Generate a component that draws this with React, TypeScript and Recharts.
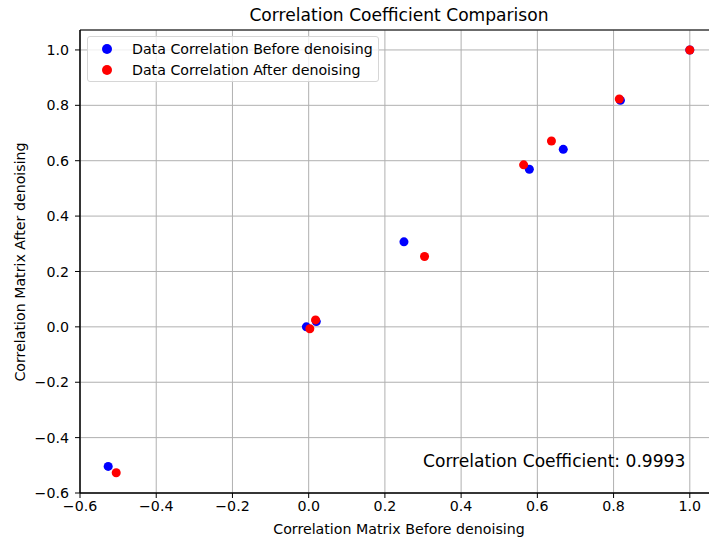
import React from 'react';
import {
  ScatterChart,
  Scatter,
  XAxis,
  YAxis,
  ZAxis,
  CartesianGrid,
  ReferenceArea,
} from 'recharts';

// values
const beforeX = [-0.526, -0.006, 0.02, 0.25, 0.579, 0.668, 0.818, 1.0];
const beforeY = [-0.504, 0.0, 0.019, 0.307, 0.569, 0.641, 0.818, 1.0];
const afterX = [-0.505, 0.003, 0.018, 0.304, 0.564, 0.637, 0.815, 1.0];
const afterY = [-0.527, -0.007, 0.025, 0.254, 0.585, 0.671, 0.823, 1.0];

const xTicks = [-0.6, -0.4, -0.2, 0.0, 0.2, 0.4, 0.6, 0.8, 1.0];
const yTicks = [-0.6, -0.4, -0.2, 0.0, 0.2, 0.4, 0.6, 0.8, 1.0];

const seriesNames = ['Data Correlation Before denoising', 'Data Correlation After denoising'];
const seriesColors = ['#0000ff', '#ff0000'];
const coefText = 'Correlation Coefficient: 0.9993';

// the reference axes run a little past the right edge of the picture
const X_DOMAIN: [number, number] = [-0.6, 1.074];
const Y_DOMAIN: [number, number] = [-0.6, 1.072];

const FONT = '"DejaVu Sans", sans-serif';
const SMALL = 14.2;
const LARGE = 17.1;

const fmt = (v: number): string => v.toFixed(1).replace('-', '\u2212');

const toPoints = (xs: number[], ys: number[]) => xs.map((x, i) => ({ x, y: ys[i] }));

const App: React.FC = () => {
  const before = toPoints(beforeX, beforeY);
  const after = toPoints(afterX, afterY);

  return (
    <div
      style={{
        position: 'fixed',
        left: 0,
        top: 0,
        width: 709,
        height: 540,
        overflow: 'hidden',
        fontFamily: FONT,
        background: '#fff',
      }}
    >
      <ScatterChart
        width={719}
        height={540}
        margin={{ top: 30, right: 1, bottom: 0, left: 0 }}
      >
        <CartesianGrid stroke="#b0b0b0" strokeWidth={1} />
        <XAxis
          type="number"
          dataKey="x"
          domain={X_DOMAIN}
          ticks={xTicks}
          tickFormatter={fmt}
          allowDataOverflow
          height={47}
          tickSize={5}
          tickMargin={3}
          axisLine={{ stroke: '#000' }}
          tickLine={{ stroke: '#000' }}
          tick={{ fill: '#000', fontSize: SMALL, fontFamily: FONT }}
        />
        <YAxis
          type="number"
          dataKey="y"
          domain={Y_DOMAIN}
          ticks={yTicks}
          tickFormatter={fmt}
          allowDataOverflow
          width={80}
          tickSize={5}
          tickMargin={6}
          axisLine={{ stroke: '#000' }}
          tickLine={{ stroke: '#000' }}
          tick={{ fill: '#000', fontSize: SMALL, fontFamily: FONT }}
        />
        <ZAxis range={[80, 80]} />
        <ReferenceArea
          x1={X_DOMAIN[0]}
          x2={X_DOMAIN[1]}
          y1={Y_DOMAIN[0]}
          y2={Y_DOMAIN[1]}
          fill="none"
          stroke="#000"
          strokeWidth={1}
        />
        <Scatter
          name={seriesNames[0]}
          data={before}
          fill={seriesColors[0]}
          isAnimationActive={false}
        />
        <Scatter
          name={seriesNames[1]}
          data={after}
          fill={seriesColors[1]}
          isAnimationActive={false}
        />
      </ScatterChart>

      {/* title */}
      <div
        style={{
          position: 'absolute',
          left: 80,
          width: 638,
          top: 4,
          textAlign: 'center',
          fontSize: LARGE,
          lineHeight: '22px',
          color: '#000',
        }}
      >
        Correlation Coefficient Comparison
      </div>

      {/* axis labels */}
      <div
        style={{
          position: 'absolute',
          left: 80,
          width: 638,
          top: 520,
          textAlign: 'center',
          fontSize: SMALL,
          lineHeight: '18px',
          color: '#000',
        }}
      >
        Correlation Matrix Before denoising
      </div>
      <div
        style={{
          position: 'absolute',
          left: 20 - 150,
          top: 262 - 9,
          width: 300,
          height: 18,
          textAlign: 'center',
          fontSize: SMALL,
          lineHeight: '18px',
          color: '#000',
          transform: 'rotate(-90deg)',
        }}
      >
        Correlation Matrix After denoising
      </div>

      {/* legend */}
      <div
        style={{
          position: 'absolute',
          left: 87,
          top: 36,
          width: 292,
          height: 46,
          border: '1px solid #d6d6d6',
          borderRadius: 3,
          background: 'rgba(255,255,255,0.8)',
          boxSizing: 'border-box',
          fontSize: SMALL,
          color: '#000',
        }}
      >
        {seriesNames.map((name, i) => (
          <div
            key={name}
            style={{
              position: 'absolute',
              left: 14,
              top: 2 + i * 21,
              height: 20,
              display: 'flex',
              alignItems: 'center',
            }}
          >
            <span
              style={{
                display: 'inline-block',
                width: 10,
                height: 10,
                borderRadius: '50%',
                background: seriesColors[i],
                marginRight: 20,
              }}
            />
            <span>{name}</span>
          </div>
        ))}
      </div>

      {/* coefficient annotation */}
      <div
        style={{
          position: 'absolute',
          left: 423,
          top: 450,
          fontSize: LARGE,
          lineHeight: '22px',
          color: '#000',
          whiteSpace: 'nowrap',
        }}
      >
        {coefText}
      </div>
    </div>
  );
};

export default App;
